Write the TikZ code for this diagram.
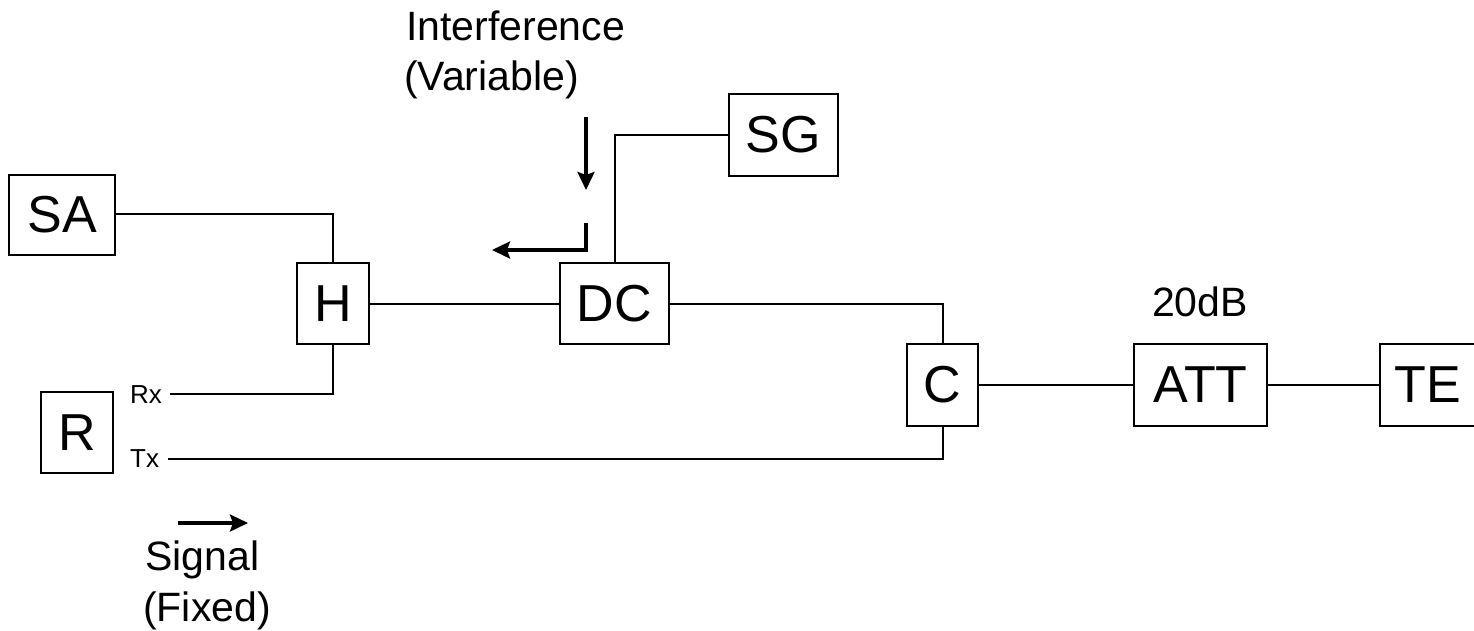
\documentclass[tikz,border=0pt]{standalone}
\usepackage{fontspec}
\setmainfont{Liberation Sans}
\usetikzlibrary{arrows.meta}
\begin{document}
\begin{tikzpicture}[x=1pt,y=-1pt,
  box/.style={draw,line width=2.2pt,inner sep=0pt,font=\fontsize{52}{60}\selectfont},
  wire/.style={line width=2pt},
  flow/.style={line width=3.4pt,-{Stealth[length=18pt,width=17pt,inset=3pt]}},
  lbl/.style={inner sep=0pt,font=\fontsize{41}{49}\selectfont},
  port/.style={inner sep=0pt,font=\fontsize{26}{30}\selectfont}]
\useasboundingbox (0,0) rectangle (1474,630);
\node[box,minimum width=106pt,minimum height=80pt] (SA) at (62,215) {SA};
\node[box,minimum width=72pt,minimum height=81pt] (H) at (333,303.5) {H};
\node[box,minimum width=72pt,minimum height=81pt] (R) at (77,432.5) {R};
\node[box,minimum width=109pt,minimum height=81pt] (DC) at (614.5,303.5) {DC};
\node[box,minimum width=109pt,minimum height=82pt] (SG) at (783.5,135) {SG};
\node[box,minimum width=71pt,minimum height=82pt] (C) at (942.5,385) {C};
\node[box,minimum width=133pt,minimum height=82pt] (ATT) at (1200.5,385) {ATT};
\node[box,minimum width=96pt,minimum height=82pt] (TE) at (1428,385) {TE};
\node[port,anchor=base west] (rxl) at (130,403) {Rx};
\node[port,anchor=base west] (txl) at (130,467) {Tx};
\coordinate (rx) at (170,394);
\coordinate (tx) at (168,459);
\draw[wire] (SA.east |- 0,214) -| (H.north);
\draw[wire] (H.east |- 0,304) -- (DC.west |- 0,304);
\draw[wire] (H.south) |- (rx);
\draw[wire] (DC.north) |- (SG.west);
\draw[wire] (DC.east |- 0,304) -| (C.north);
\draw[wire] (C.east) -- (ATT.west);
\draw[wire] (ATT.east) -- (TE.west);
\draw[wire] (tx) -| (C.south);
\node[lbl,anchor=base west] (int1) at (406,40) {Interference};
\node[lbl,anchor=base west] (int2) at (404,90) {(Variable)};
\node[lbl,anchor=base] (att) at (1200,316) {20dB};
\node[lbl,anchor=base west] (sig1) at (145,570) {Signal};
\node[lbl,anchor=base west] (sig2) at (143,621) {(Fixed)};
\coordinate (i1) at (586,117);
\coordinate (i2) at (586,190);
\coordinate (l1) at (586,223);
\coordinate (l2) at (586,250);
\coordinate (l3) at (492,250);
\coordinate (s1) at (178,523);
\coordinate (s2) at (248,523);
\draw[flow] (i1) -- (i2);
\draw[flow] (l1) -- (l2) -- (l3);
\draw[flow] (s1) -- (s2);
\end{tikzpicture}
\end{document}
